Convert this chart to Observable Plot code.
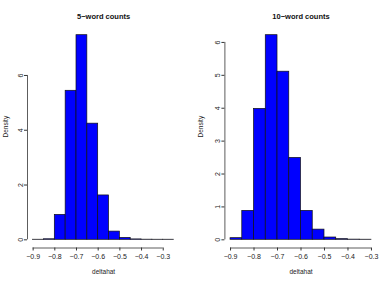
<!DOCTYPE html>
<html>
<head>
<meta charset="utf-8">
<script src="https://cdn.jsdelivr.net/npm/d3@7"></script>
<script src="https://cdn.jsdelivr.net/npm/@observablehq/plot@0.6"></script>
<style>
  html, body { margin: 0; padding: 0; background: #fff; }
  #wrap { display: flex; flex-direction: row; width: 381px; height: 283px; }
  svg { display: block; font-family: "Liberation Sans", Arial, sans-serif; }
</style>
</head>
<body>
<div id="wrap"></div>
<script>
// ---- data ----
const titles = ["5\u2212word counts", "10\u2212word counts"];
const xLabel = "deltahat";
const yLabel = "Density";

const breaks5 = [-0.9, -0.85, -0.8, -0.75, -0.7, -0.65, -0.6, -0.55, -0.5, -0.45, -0.4, -0.35, -0.3, -0.25];
const density5 = [0.003, 0.02, 0.91, 5.44, 7.47, 4.24, 1.62, 0.30, 0.07, 0.015, 0.005, 0.003, 0.003];

const breaks10 = [-0.9, -0.85, -0.8, -0.75, -0.7, -0.65, -0.6, -0.55, -0.5, -0.45, -0.4, -0.35, -0.3];
const density10 = [0.05, 0.88, 3.98, 6.22, 5.11, 2.49, 0.88, 0.31, 0.07, 0.02, 0.006, 0.003];

const xTicks = [-0.9, -0.8, -0.7, -0.6, -0.5, -0.4, -0.3];
const xTickLabels = ["\u22120.9", "\u22120.8", "\u22120.7", "\u22120.6", "\u22120.5", "\u22120.4", "\u22120.3"];
const yTicks5 = [0, 2, 4, 6];
const yTicks10 = [0, 1, 2, 3, 4, 5, 6];

function panel(title, breaks, density, yTicks, opts) {
  const bins = density.map((d, i) => ({x1: breaks[i], x2: breaks[i + 1], y: d}));
  const xmin = breaks[0], xmax = breaks[breaks.length - 1];
  const xr = (xmax - xmin) * 0.04;
  const ymax = d3.max(density);
  const yDomain = [-0.04 * ymax, ymax * 1.04];
  const fmt = d => xTickLabels[xTicks.findIndex(t => Math.abs(t - d) < 1e-9)];
  return Plot.plot({
    width: opts.width,
    height: 283,
    marginLeft: opts.marginLeft,
    marginRight: opts.marginRight,
    marginTop: 26.5,
    marginBottom: 35.5,
    x: {domain: [xmin - xr, xmax + xr]},
    y: {domain: yDomain},
    style: {fontFamily: "Liberation Sans, Arial, sans-serif", color: "#222"},
    marks: [
      Plot.rectY(bins, {x1: "x1", x2: "x2", y: "y", inset: 0, fill: "#0000ff", stroke: "#111", strokeWidth: 0.7}),
      Plot.axisX({ticks: xTicks, tickFormat: fmt, tickSize: 3, tickPadding: 3.5, fontSize: 7, label: null, stroke: "#333"}),
      Plot.ruleY([yDomain[0]], {x1: xTicks[0], x2: xTicks[xTicks.length - 1], stroke: "#333", strokeWidth: 0.8}),
      Plot.axisY({ticks: yTicks, tickFormat: d => String(d), tickSize: 3, tickPadding: 2, tickRotate: -90, fontSize: 7, label: null, stroke: "#333"}),
      Plot.ruleX([xmin - xr], {y1: yTicks[0], y2: yTicks[yTicks.length - 1], stroke: "#333", strokeWidth: 0.8}),
      Plot.text([title], {frameAnchor: "top", dy: -13.5, fontSize: 7.5, fontWeight: "bold", fill: "#111"}),
      Plot.text([xLabel], {frameAnchor: "bottom", dy: 25.5, fontSize: 6.5, fill: "#222"}),
      Plot.text([yLabel], {frameAnchor: "left", dx: opts.ylabDx, rotate: -90, fontSize: 6.5, fill: "#222"})
    ]
  });
}

const wrap = document.getElementById("wrap");
wrap.appendChild(panel(titles[0], breaks5, density5, yTicks5, {width: 190, marginLeft: 27, marginRight: 10.8, ylabDx: -22}));
wrap.appendChild(panel(titles[1], breaks10, density10, yTicks10, {width: 191, marginLeft: 34.4, marginRight: 4.4, ylabDx: -24.4}));
</script>
</body>
</html>
